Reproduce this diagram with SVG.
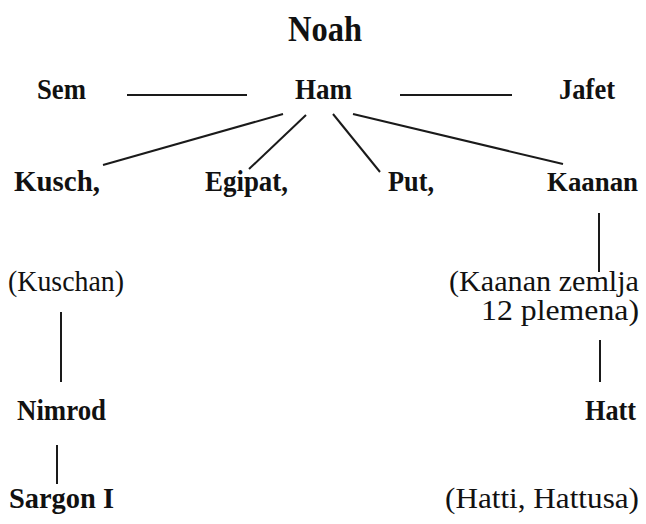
<svg xmlns="http://www.w3.org/2000/svg" width="646" height="524" viewBox="0 0 646 524" xml:space="preserve">
<style>
.b{font-family:"Liberation Serif","Times New Roman",serif;font-weight:bold;font-size:30px;fill:#111}
.r{font-family:"Liberation Serif","Times New Roman",serif;font-size:29px;fill:#111}
.t{font-size:35px}
.k{font-size:28px}
line{stroke:#1a1a1a;stroke-width:2}
</style>
<rect width="646" height="524" fill="#fff"/>
<g id="noah"><text class="b t" x="288" y="41" textLength="74" lengthAdjust="spacingAndGlyphs">Noah</text></g>
<g id="sem"><text class="b" x="37" y="99" textLength="49" lengthAdjust="spacingAndGlyphs">Sem</text></g>
<g id="ham"><text class="b" x="295" y="99" textLength="57" lengthAdjust="spacingAndGlyphs">Ham</text></g>
<g id="jafet"><text class="b" x="559" y="99" textLength="56" lengthAdjust="spacingAndGlyphs">Jafet</text></g>
<g id="kusch"><text class="b" x="14" y="191" textLength="86" lengthAdjust="spacingAndGlyphs">Kusch,</text></g>
<g id="egipat"><text class="b" x="205" y="191" textLength="83" lengthAdjust="spacingAndGlyphs">Egipat,</text></g>
<g id="put"><text class="b" x="388" y="191" textLength="46" lengthAdjust="spacingAndGlyphs">Put,</text></g>
<g id="kaanan"><text class="b k" x="547" y="191" textLength="91" lengthAdjust="spacingAndGlyphs">Kaanan</text></g>
<g id="kuschan"><text class="r" x="8" y="291" textLength="116" lengthAdjust="spacingAndGlyphs">(Kuschan)</text></g>
<g id="kaanan-zemlja"><text class="r" x="449" y="291" textLength="190" lengthAdjust="spacingAndGlyphs">(Kaanan  zemlja</text><text class="r" x="481" y="320" textLength="158" lengthAdjust="spacingAndGlyphs">12  plemena)</text></g>
<g id="nimrod"><text class="b" x="17" y="420" textLength="89" lengthAdjust="spacingAndGlyphs">Nimrod</text></g>
<g id="hatt"><text class="b" x="585" y="420" textLength="51" lengthAdjust="spacingAndGlyphs">Hatt</text></g>
<g id="sargon"><text class="b" x="9" y="508" textLength="105" lengthAdjust="spacingAndGlyphs">Sargon  I</text></g>
<g id="hatti"><text class="r" x="445" y="508" textLength="194" lengthAdjust="spacingAndGlyphs">(Hatti,  Hattusa)</text></g>
<g id="connectors">
<line x1="127" y1="95" x2="247" y2="95"/>
<line x1="400" y1="95" x2="512" y2="95"/>
<line x1="283" y1="114" x2="103" y2="165"/>
<line x1="306" y1="115" x2="249" y2="169"/>
<line x1="333" y1="114" x2="380" y2="172"/>
<line x1="353" y1="114" x2="563" y2="164"/>
<line x1="599" y1="213" x2="599" y2="272"/>
<line x1="61" y1="312" x2="61" y2="382"/>
<line x1="600" y1="340" x2="600" y2="382"/>
<line x1="57" y1="445" x2="57" y2="484"/>
</g>
</svg>
